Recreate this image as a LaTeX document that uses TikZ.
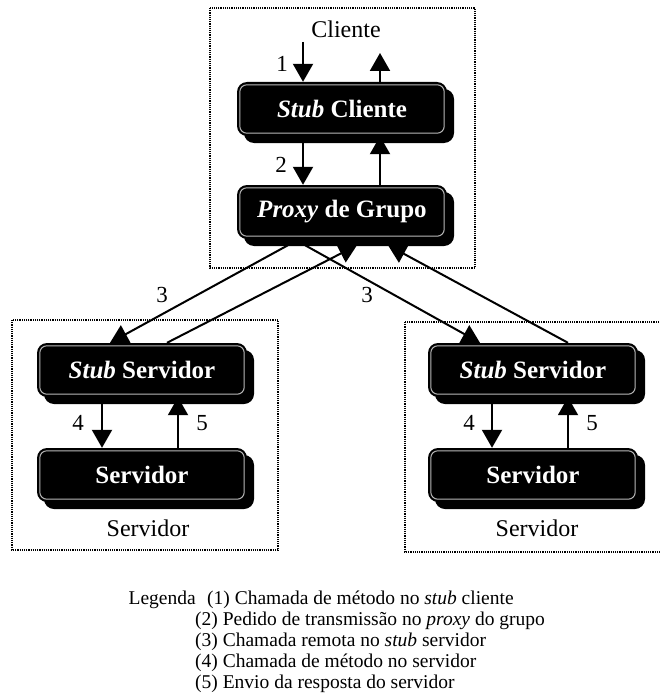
\documentclass[tikz,border=0pt]{standalone}
\usepackage{fontspec}
\setmainfont{Liberation Serif}
\usetikzlibrary{arrows.meta,shadows}

\begin{document}
\begin{tikzpicture}[x=1pt,y=-1pt,
  group/.style={draw, line width=1.8pt, dash pattern=on 1.2pt off 1pt},
  blk/.style={fill=black, rounded corners=10pt, minimum width=210pt, minimum height=54pt,
    inner sep=0pt, text=white, font=\fontsize{25}{27}\selectfont\bfseries,
    drop shadow={shadow xshift=7pt, shadow yshift=-7pt, opacity=1, fill=black}},
  rim/.style={draw=gray!55, line width=1pt, rounded corners=7pt},
  arr/.style={line width=2pt, -{Triangle[length=18pt,width=20pt]}},
  lbl/.style={font=\fontsize{24}{26}\selectfont, inner sep=0pt},
  num/.style={font=\fontsize{23}{25}\selectfont, inner sep=0pt},
  leg/.style={font=\fontsize{19.5}{21}\selectfont, inner sep=0pt, anchor=base west}]

\useasboundingbox (0,0) rectangle (659,698);

% groups
\draw[group] (210,8) rectangle (475,268);
\draw[group] (12,320) rectangle (278,550);
\draw[group] (405,322) rectangle (665,552);

\node[lbl] (cli) at (346,29) {Cliente};
\node[lbl] (srvl) at (148,528) {Servidor};
\node[lbl] (srvr) at (537,528) {Servidor};

% boxes
\node[blk] (sc) at (342,109) {\textit{Stub} Cliente};
\node[blk] (pg) at (342,212) {\textit{Proxy} de Grupo};
\node[blk] (ls) at (142,370) {\textit{Stub} Servidor};
\node[blk] (lv) at (142,475) {Servidor};
\node[blk] (rs) at (533,370) {\textit{Stub} Servidor};
\node[blk] (rv) at (533,475) {Servidor};

% light inner rim of each box
\foreach \b in {sc,pg,ls,lv,rs,rv}
  \draw[rim] ([shift={(3pt,-3pt)}]\b.north west) rectangle ([shift={(-3pt,3pt)}]\b.south east);

% client entry and exit
\coordinate (in1) at (303,42);
\coordinate (out1) at (380,53);
\draw[arr] (in1) -- (in1 |- sc.north);
\draw[arr] (out1 |- sc.north) -- (out1);

% stub <-> proxy
\draw[arr] ([xshift=-39pt]sc.south) -- ([xshift=-39pt]pg.north);
\draw[arr] ([xshift=38pt]pg.north) -- ([xshift=38pt]sc.south);

% proxy <-> server stubs
\draw[arr] ([shift={(-54pt,-6pt)}]pg.south) -- ([xshift=-32pt]ls.north);
\draw[arr] ([xshift=25pt]ls.north) -- ([shift={(15pt,-6pt)}]pg.south);
\draw[arr] ([shift={(-37pt,-6pt)}]pg.south) -- ([xshift=-53pt]rs.north);
\draw[arr] ([xshift=35pt]rs.north) -- ([shift={(46pt,-6pt)}]pg.south);

% stub <-> server
\draw[arr] ([xshift=-40pt]ls.south) -- ([xshift=-40pt]lv.north);
\draw[arr] ([xshift=36pt]lv.north) -- ([xshift=36pt]ls.south);
\draw[arr] ([xshift=-41pt]rs.south) -- ([xshift=-41pt]rv.north);
\draw[arr] ([xshift=35pt]rv.north) -- ([xshift=35pt]rs.south);

% step numbers
\node[num] (n1) at (282,64) {1};
\node[num] (n2) at (281,165) {2};
\node[num] (n3a) at (162,295) {3};
\node[num] (n3b) at (367,295) {3};
\node[num] (n4a) at (78,423) {4};
\node[num] (n5a) at (202,423) {5};
\node[num] (n4b) at (469,423) {4};
\node[num] (n5b) at (592,423) {5};

% legend
\node[leg, anchor=base east] (lg) at (196,604) {Legenda};
\node[leg] (l1) at (207,604) {(1) Chamada de método no \textit{stub} cliente};
\node[leg] (l2) at (195,625) {(2) Pedido de transmissão no \textit{proxy} do grupo};
\node[leg] (l3) at (195,646) {(3) Chamada remota no \textit{stub} servidor};
\node[leg] (l4) at (195,667) {(4) Chamada de método no servidor};
\node[leg] (l5) at (195,688) {(5) Envio da resposta do servidor};
\end{tikzpicture}
\end{document}
